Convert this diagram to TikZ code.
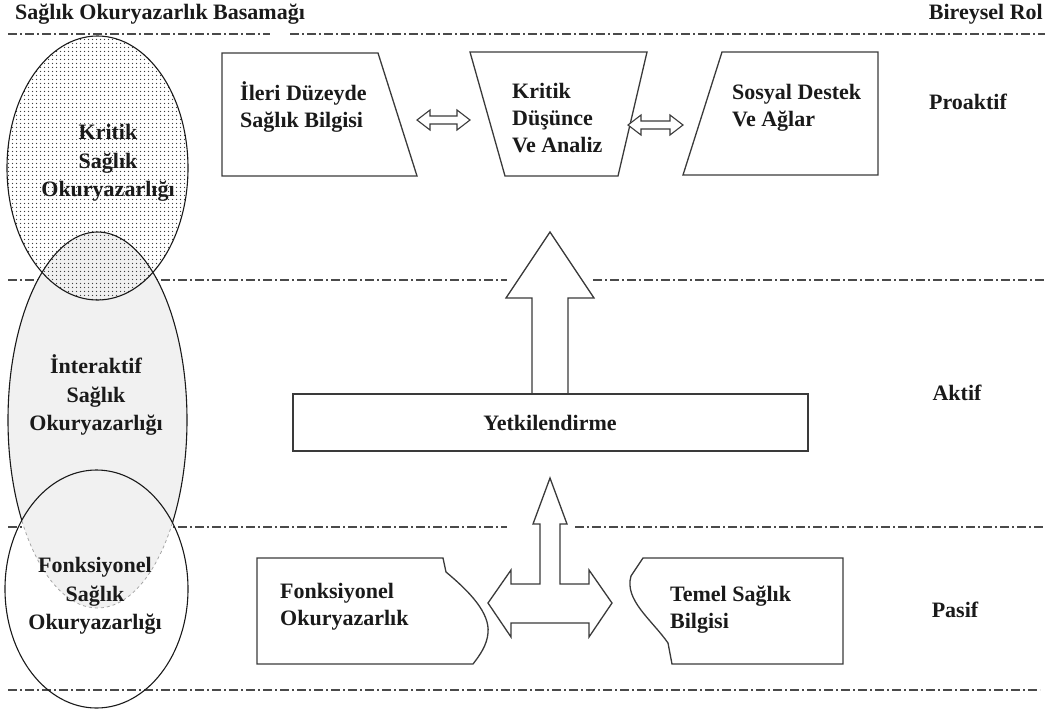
\documentclass[tikz,border=0pt]{standalone}
\usepackage{fontspec}
\setmainfont{Liberation Serif}
\usetikzlibrary{patterns}
\pgfdeclarepatternformonly{mydots}{\pgfpointorigin}{\pgfpoint{3.5pt}{3.5pt}}{\pgfpoint{3.5pt}{3.5pt}}{%
  \pgfpathcircle{\pgfpoint{1.75pt}{1.75pt}}{0.8pt}\pgfusepath{fill}}
\definecolor{ink}{HTML}{1A1A1A}
\definecolor{edge}{HTML}{3A3A3A}
\definecolor{sep}{HTML}{4A4A4A}
\definecolor{lightfill}{HTML}{F1F1F1}
\begin{document}
\begin{tikzpicture}[x=1pt,y=-1pt,
  every node/.style={inner sep=0pt, text=ink, font=\fontsize{22}{27}\selectfont\bfseries},
  boxtext/.style={anchor=west, align=left},
  ctext/.style={align=center, font=\fontsize{22}{28.5}\selectfont\bfseries},
  shapeline/.style={draw=edge, line width=1.3pt, line join=miter},
  sepline/.style={draw=sep, line width=1.2pt, dash pattern=on 9pt off 3pt on 2pt off 3pt},
  ell/.style={draw=ink, line width=1.1pt}]
\useasboundingbox (0,0) rectangle (1052,710);

% separator lines
\draw[sepline] (8,34) -- (270,34);
\draw[sepline] (290,34) -- (1045,34);
\draw[sepline] (8,280) -- (507,280);
\draw[sepline] (593,280) -- (1045,280);
\draw[sepline] (8,527) -- (507,527);
\draw[sepline] (575,527) -- (1045,527);
\draw[sepline] (8,690) -- (1040,690);

% ellipses
\fill[lightfill] (97.5,420) ellipse [x radius=89.5pt, y radius=188pt];
\fill[pattern=mydots, pattern color=black!75] (97.5,168) ellipse [x radius=90.5pt, y radius=132pt];
\draw[ell] (97.5,168) ellipse [x radius=90.5pt, y radius=132pt];
\begin{scope}[even odd rule]
  \clip (-20,-20) rectangle (1080,740) (96.5,589) ellipse [x radius=91.5pt, y radius=119pt];
  \draw[ell] (97.5,420) ellipse [x radius=89.5pt, y radius=188pt];
\end{scope}
\begin{scope}
  \clip (96.5,589) ellipse [x radius=91.5pt, y radius=119pt];
  \draw[draw=gray!70, line width=0.8pt, dashed] (97.5,420) ellipse [x radius=89.5pt, y radius=188pt];
\end{scope}
\draw[ell] (96.5,589) ellipse [x radius=91.5pt, y radius=119pt];

\node[ctext] (kritikE) at (108,163) {Kritik\\Sağlık\\Okuryazarlığı};
\node[ctext] (interE) at (96,395) {İnteraktif\\Sağlık\\Okuryazarlığı};
\node[ctext] (fonkE) at (95,596) {Fonksiyonel\\Sağlık\\Okuryazarlığı};

% headers
\node[anchor=west] (hleft) at (15,14) {Sağlık Okuryazarlık Basamağı};
\node[anchor=east] (hright) at (1043,14) {Bireysel Rol};
\node (proaktif) at (968,102) {Proaktif};
\node (aktif) at (957,393) {Aktif};
\node (pasif) at (955,610) {Pasif};

% top row shapes
\draw[shapeline] (222,53) -- (378,53) -- (417,176) -- (222,176) -- cycle;
\draw[shapeline] (470,52) -- (647,52) -- (618,176) -- (505,176) -- cycle;
\draw[shapeline] (722,52) -- (878,52) -- (878,175) -- (683,175) -- cycle;
\node[boxtext] (ileri) at (240,107) {İleri Düzeyde\\Sağlık Bilgisi};
\node[boxtext] (kritik) at (512,118) {Kritik\\Düşünce\\Ve Analiz};
\node[boxtext] (sosyal) at (732,108) {Sosyal Destek\\Ve Ağlar};

% thin double arrows
\draw[shapeline, line width=1.1pt, fill=white] (417,120) -- (430,110) -- (430,116) -- (457,116) -- (457,110) -- (470,120) -- (457,130) -- (457,124) -- (430,124) -- (430,130) -- cycle;
\draw[shapeline, line width=1.1pt, fill=white] (628,125) -- (641,115) -- (641,121) -- (670,121) -- (670,115) -- (683,125) -- (670,135) -- (670,129) -- (641,129) -- (641,135) -- cycle;

% big up arrow
\draw[shapeline, fill=white] (532,394) -- (532,298) -- (506,298) -- (550,232) -- (594,298) -- (568,298) -- (568,394);

% Yetkilendirme
\draw[shapeline] (293,394) rectangle (808,451);
\node (yetki) at (550,423) {Yetkilendirme};

% T arrow
\draw[shapeline, fill=white] (550,478) -- (567,524) -- (560,524) -- (560,584) -- (589,584) -- (589,570) -- (612,603) -- (589,637) -- (589,623) -- (511,623) -- (511,637) -- (488,603) -- (511,570) -- (511,584) -- (540,584) -- (540,524) -- (533,524) -- cycle;

% bottom boxes
\draw[shapeline] (257,558) -- (443,558) -- (446,572) .. controls (470,592) and (490,613) .. (488,633) .. controls (487,645) and (480,655) .. (473,664) -- (257,664) -- cycle;
\draw[shapeline] (643,558) -- (843,558) -- (843,664) -- (672,664) -- (668,643) .. controls (652,620) and (624,600) .. (631,576) -- cycle;
\node[boxtext] (fonk) at (280,607) {Fonksiyonel\\Okuryazarlık};
\node[boxtext] (temel) at (670,610) {Temel Sağlık\\Bilgisi};
\end{tikzpicture}
\end{document}
